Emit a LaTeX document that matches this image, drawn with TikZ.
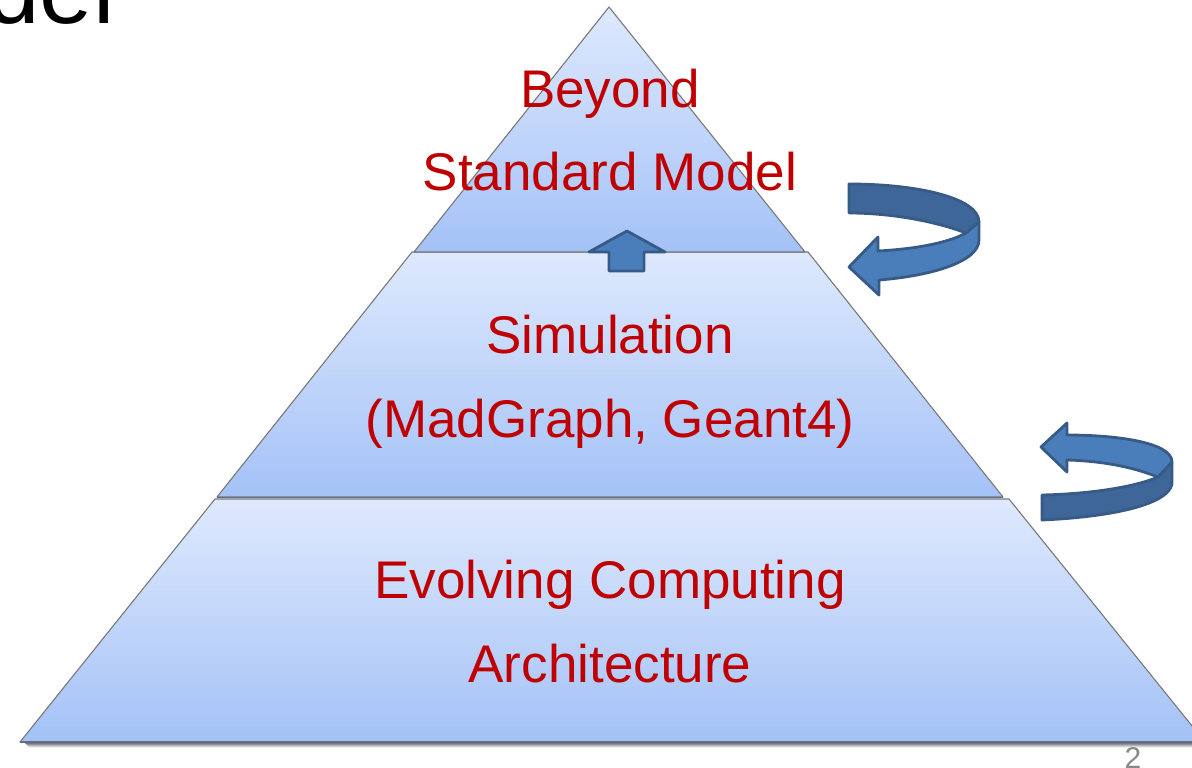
\documentclass[tikz,border=0pt]{standalone}
\usepackage{fontspec}
\setmainfont{Liberation Sans}
\definecolor{laylight}{RGB}{222,233,253}
\definecolor{laydark}{RGB}{164,194,247}
\definecolor{layedge}{RGB}{120,120,120}
\definecolor{sepline}{RGB}{95,110,135}
\definecolor{txtred}{RGB}{192,0,0}
\definecolor{arrlight}{RGB}{74,126,187}
\definecolor{arrdark}{RGB}{62,102,153}
\definecolor{arredge}{RGB}{56,90,135}
\definecolor{pagegray}{RGB}{137,137,137}
\tikzset{
  layer/.style={top color=laylight, bottom color=laydark, draw=layedge, line width=1.1pt, line join=round},
  lbl/.style={anchor=base, text=txtred, font=\fontsize{53}{60}\selectfont, inner sep=0pt},
  arrfront/.style={fill=arrlight, draw=arredge, line width=2.8pt, line join=round},
  arrback/.style={fill=arrdark, draw=arredge, line width=2.8pt, line join=round}
}
\begin{document}
\begin{tikzpicture}[x=1pt,y=-1pt]
\useasboundingbox (0,0) rectangle (1192,768);
\clip (0,0) rectangle (1192,768);
\fill[white] (0,0) rectangle (1192,768);
% title fragment
\node[anchor=base west, inner sep=0pt, font=\fontsize{96}{100}\selectfont] (title) at (-147,24) {Model};
% base shadow
\foreach \o/\a in {1/0.35,2/0.28,3/0.2,4/0.12,5/0.06}
  \draw[black, opacity=\a, line width=1.2pt] (24+\o,742+\o) -- (1192,742+\o);
% pyramid layers
\path[layer] (20,742) -- (215,499) -- (1009,499) -- (1205,742) -- cycle;
\path[layer] (217,497) -- (412,252) -- (808,252) -- (1003,497) -- cycle;
\path[layer] (414,252) -- (609,7) -- (805,252) -- cycle;
\draw[sepline, line width=1.6pt] (217,497.5) -- (1003,497.5);
\draw[sepline, line width=1.6pt] (20,742) -- (1192,742);
% labels
\node[lbl] (b1) at (610,107) {Beyond};
\node[lbl] (b2) at (610,190) {Standard Model};
\node[lbl] (s1) at (610,353) {Simulation};
\node[lbl] (s2) at (610,437) {(MadGraph, Geant4)};
\node[lbl] (e1) at (610,598) {Evolving Computing};
\node[lbl] (e2) at (610,682) {Architecture};
% up arrow
\path[arrfront] (627,231) -- (665,252) -- (644,252) -- (644,271) -- (609,271) -- (609,252) -- (589,252) -- cycle;
% curved arrow 1
\path[arrback] (849,184) .. controls (918,184) and (979,198) .. (979,222) -- (966,233)
  .. controls (935,221) and (890,213) .. (849,213) -- cycle;
\path[arrfront] (979,222) -- (979,240) .. controls (979,262) and (930,276) .. (879,280)
  -- (879,295) -- (849,267) -- (878,237) -- (878,251)
  .. controls (915,249) and (948,243) .. (966,233) -- cycle;
% curved arrow 2
\path[arrback] (1042,495) .. controls (1090,494) and (1135,487) .. (1158,477) -- (1172,462)
  -- (1172,484) .. controls (1168,505) and (1110,517) .. (1042,520) -- cycle;
\path[arrfront] (1041,447) -- (1067,423) -- (1067,435) .. controls (1115,435) and (1172,442) .. (1172,462)
  -- (1158,477) .. controls (1130,466) and (1100,461) .. (1067,460) -- (1067,472) -- cycle;
% page number
\node[anchor=base, inner sep=0pt, text=pagegray, font=\fontsize{30}{32}\selectfont] (pg) at (1133,768) {2};
\end{tikzpicture}
\end{document}
